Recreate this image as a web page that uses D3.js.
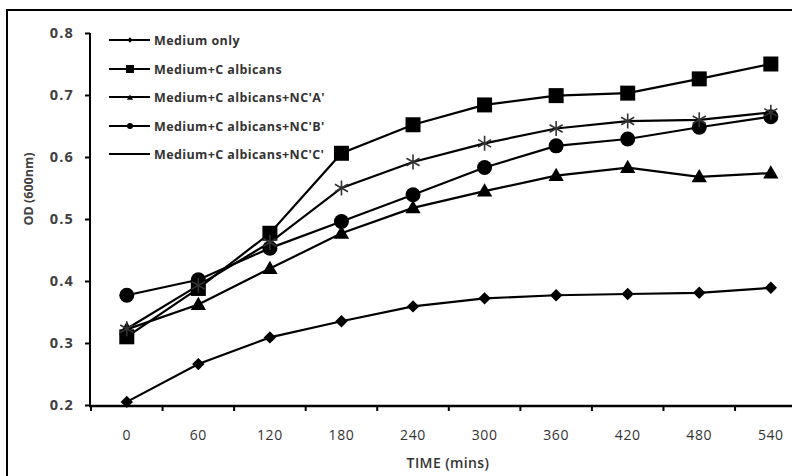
<!DOCTYPE html>
<html><head><meta charset="utf-8">
<script src="https://cdn.jsdelivr.net/npm/d3@7"></script>
<style>body{margin:0;background:#fff}svg{display:block}</style>
</head><body>
<svg id="c" width="792" height="476"></svg>
<script>
const times = ["0","60","120","180","240","300","360","420","480","540"];
const yTicks = [0.2,0.3,0.4,0.5,0.6,0.7,0.8];
const seriesNames = ["Medium only","Medium+C albicans","Medium+C albicans+NC'A'","Medium+C albicans+NC'B'","Medium+C albicans+NC'C'"];
const mediumOnly = [0.205,0.266,0.309,0.335,0.359,0.372,0.377,0.379,0.381,0.389];
const cAlbicans  = [0.310,0.388,0.477,0.606,0.652,0.684,0.699,0.703,0.726,0.750];
const ncA        = [0.322,0.362,0.420,0.477,0.518,0.545,0.570,0.583,0.568,0.574];
const ncB        = [0.377,0.402,0.453,0.496,0.539,0.583,0.618,0.629,0.648,0.665];
const ncC        = [0.323,0.393,0.462,0.550,0.592,0.622,0.646,0.658,0.660,0.672];
const symbols = ["diamond","square","triangle","circle","star"];
const allSeries = [mediumOnly,cAlbicans,ncA,ncB,ncC];

const svg = d3.select("#c");
// frame (cropped at right/bottom)
svg.append("rect").attr("x",7).attr("y",10).attr("width",820).attr("height",500)
  .attr("fill","none").attr("stroke","#000").attr("stroke-width",2);

const x = d3.scaleBand().domain(times).range([91, 91 + 71.56*times.length]).padding(0);
const y = d3.scaleLinear().domain([0.2,0.8]).range([405,33]);
const cx = t => x(t) + x.bandwidth()/2;

// y axis
const ya = svg.append("g").attr("transform","translate(90,0)")
  .call(d3.axisLeft(y).tickValues(yTicks).tickFormat(d3.format(".1f")).tickSize(5).tickPadding(11));
ya.select(".domain").attr("stroke","#000").attr("stroke-width",2).attr("d","M0,33V406");
ya.selectAll(".tick line").attr("stroke","#000").attr("stroke-width",2);
ya.selectAll(".tick text").attr("font-family","'Open Sans',sans-serif").attr("font-weight","bold")
  .attr("font-size","14.5px").attr("letter-spacing","1.2px").attr("fill","#404040");

// x axis
const xa = svg.append("g").attr("transform","translate(0,406)")
  .call(d3.axisBottom(x).tickSize(0).tickPadding(24));
xa.select(".domain").attr("stroke","#000").attr("stroke-width",2.5).attr("d","M89,0H800");
xa.selectAll(".tick text").attr("font-family","'Open Sans',sans-serif")
  .attr("font-size","14px").attr("letter-spacing","0.6px").attr("fill","#333");
xa.selectAll(".tick").each(function(d){
  d3.select(this).append("line").attr("x1",-x.bandwidth()/2).attr("x2",-x.bandwidth()/2)
    .attr("y1",0).attr("y2",5).attr("stroke","#000").attr("stroke-width",2);
});

// axis titles
svg.append("text").attr("x",448).attr("y",468).attr("text-anchor","middle")
  .attr("font-family","'Open Sans',sans-serif").attr("font-weight","600").attr("font-size","14px")
  .attr("letter-spacing","0.4px").attr("fill","#333").text("TIME (mins)");
svg.append("text").attr("transform","translate(33,189) rotate(-90)").attr("text-anchor","middle")
  .attr("font-family","'Open Sans',sans-serif").attr("font-weight","bold").attr("font-size","12.5px")
  .attr("fill","#404040").text("OD (600nm)");

function marker(g, type, s) {
  if (type === "star") {
    const r = s*0.5;
    g.append("path").attr("d",`M0,${-r}V${r}M${-r*0.87},${-r*0.5}L${r*0.87},${r*0.5}M${-r*0.87},${r*0.5}L${r*0.87},${-r*0.5}`)
      .attr("stroke","#333").attr("stroke-width",1.6).attr("fill","none");
    return;
  }
  const map = {diamond:d3.symbolDiamond2, square:d3.symbolSquare, triangle:d3.symbolTriangle, circle:d3.symbolCircle};
  let area;
  if (type==="square") area = s*s;
  else if (type==="circle") area = Math.PI*(s/2)*(s/2);
  else if (type==="diamond") area = s*s/2;
  else area = s*s*0.45;
  g.append("path").attr("d",d3.symbol(map[type], area)()).attr("fill","#000")
    .attr("transform", type==="triangle" ? "translate(0,1)" : null);
}

const line = d3.line().x((d,i)=>cx(times[i])).y(d=>y(d));
const sizes = {diamond:14, square:15, triangle:15, circle:15, star:15};
allSeries.forEach((vals,k)=>{
  svg.append("path").attr("d",line(vals)).attr("fill","none").attr("stroke","#000").attr("stroke-width",2.2);
});
allSeries.forEach((vals,k)=>{
  vals.forEach((v,i)=>{
    const g = svg.append("g").attr("transform",`translate(${cx(times[i])},${y(v)})`);
    marker(g, symbols[k], sizes[symbols[k]]);
  });
});

// legend
const legRows = [40,69,97,126,154];
seriesNames.forEach((name,k)=>{
  const g = svg.append("g").attr("transform",`translate(0,${legRows[k]})`);
  g.append("line").attr("x1",109).attr("x2",150).attr("y1",0).attr("y2",0).attr("stroke","#000").attr("stroke-width",2.2);
  const mg = g.append("g").attr("transform","translate(130,0)");
  const ls = [6,8,6,6,5][k];
  if (k<4) marker(mg, symbols[k], ls);
  g.append("text").attr("x",154).attr("y",4.5).attr("font-family","'Open Sans',sans-serif")
    .attr("font-weight","bold").attr("font-size","12.5px").attr("letter-spacing","0.4px")
    .attr("fill","#333").text(name);
});
</script>
</body></html>
